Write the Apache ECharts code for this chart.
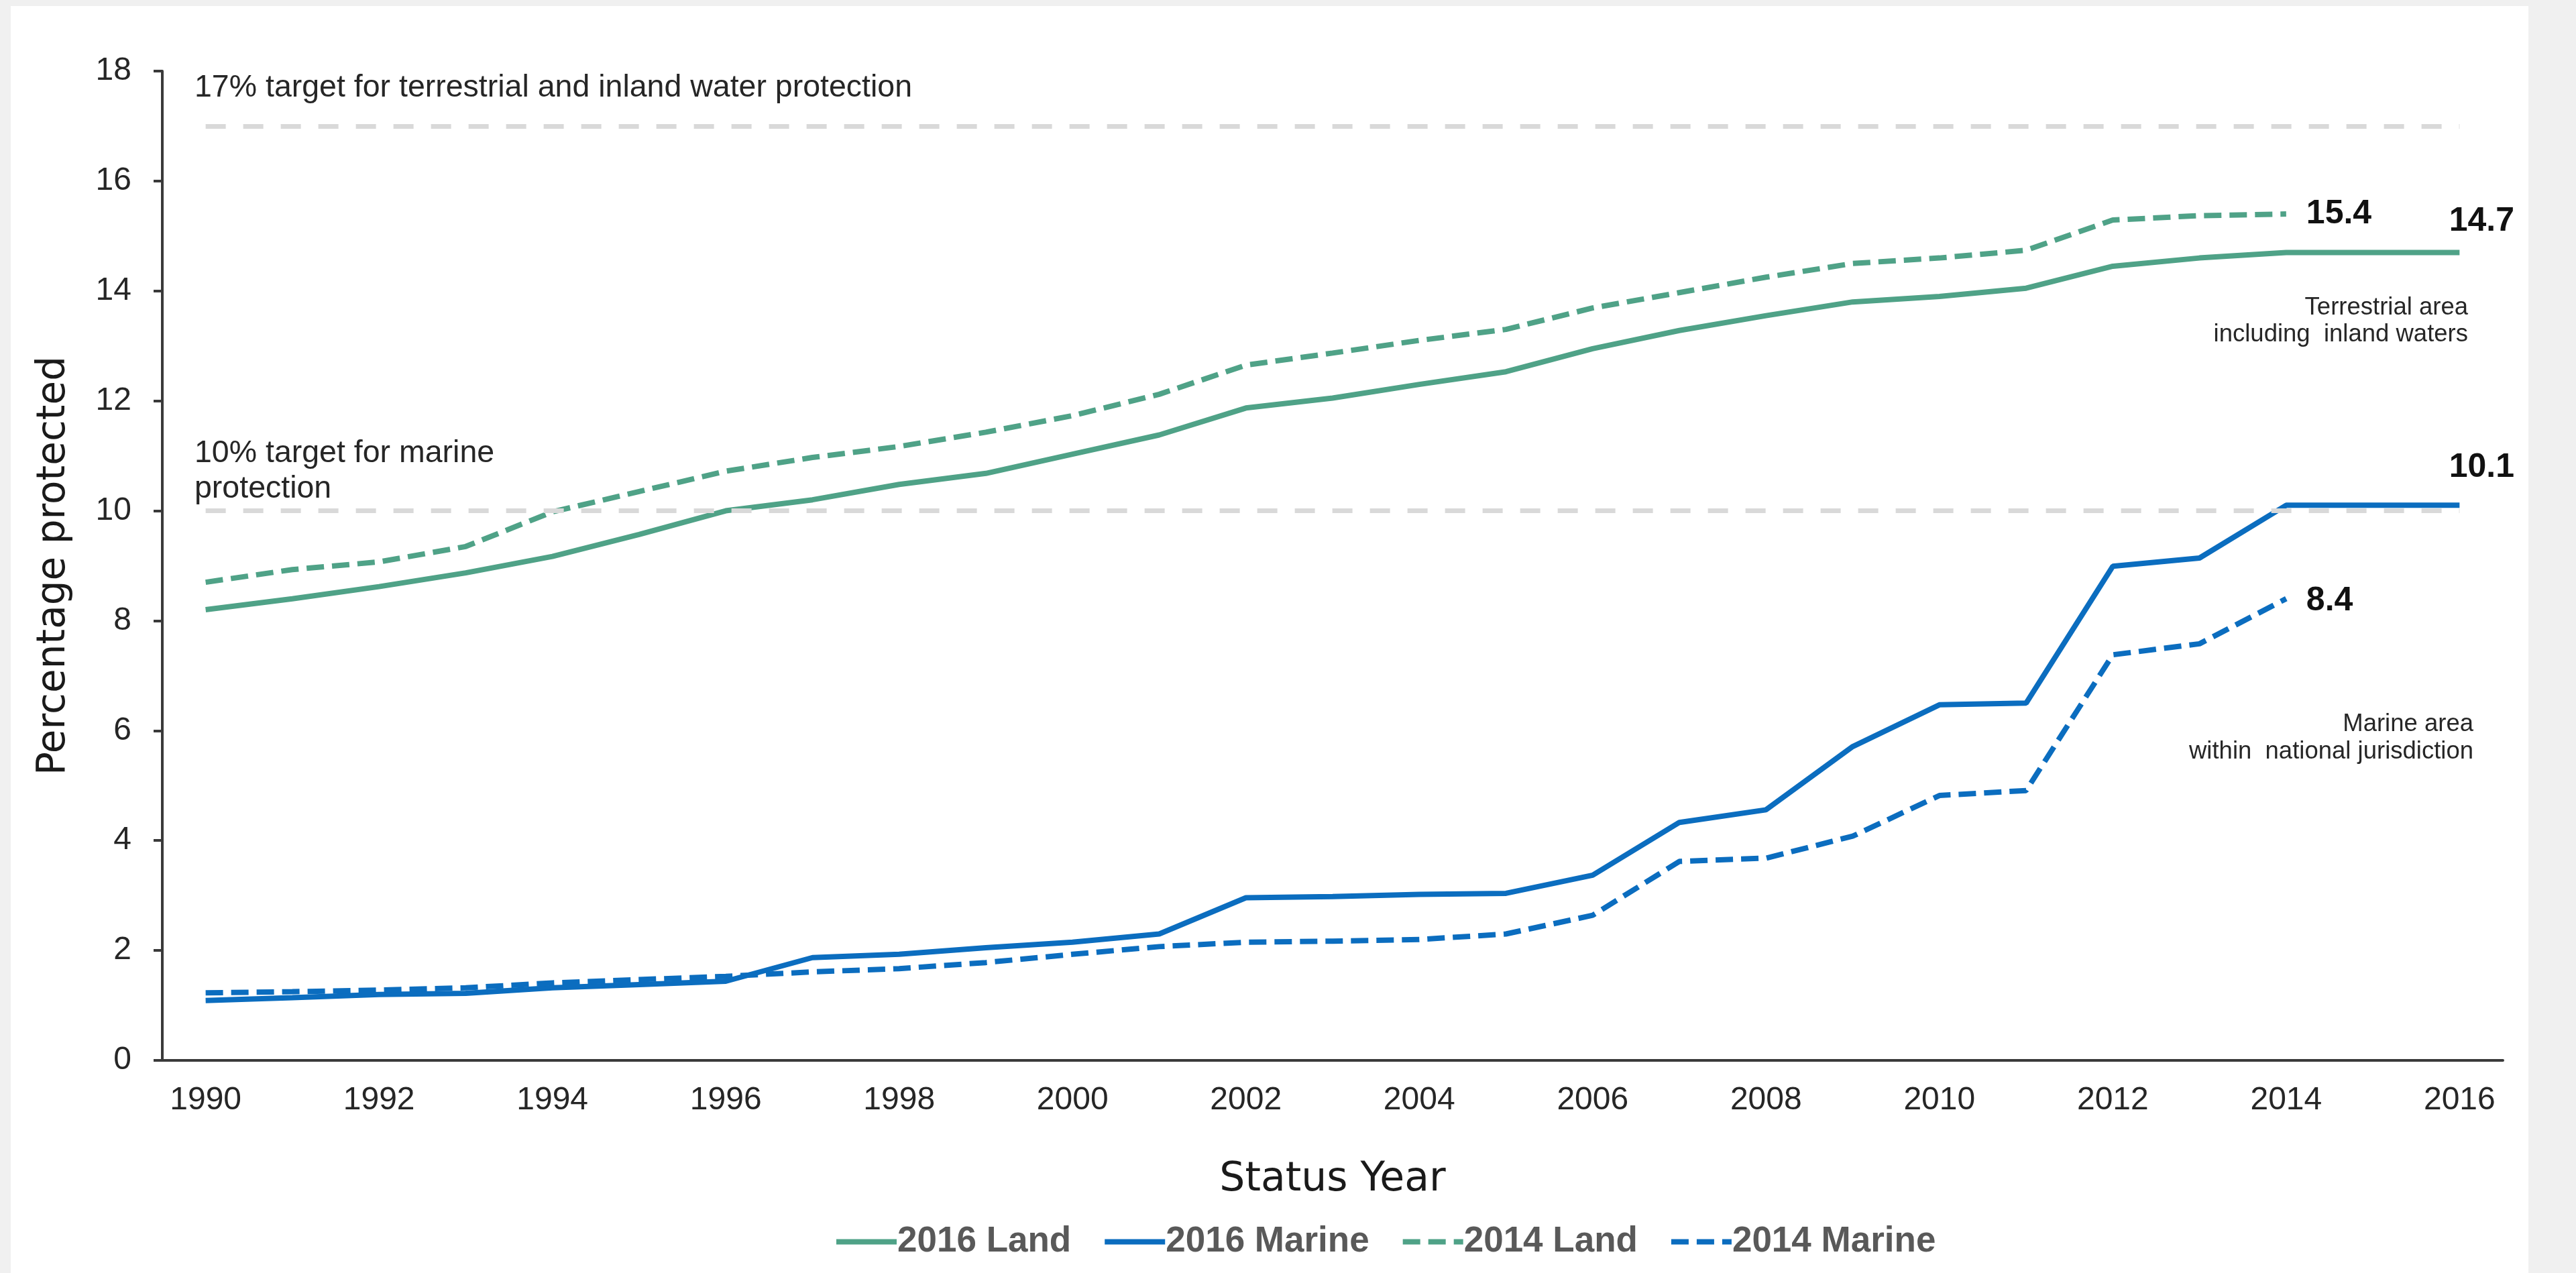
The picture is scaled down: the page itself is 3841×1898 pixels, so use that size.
<!DOCTYPE html>
<html><head><meta charset="utf-8">
<script src="https://cdn.jsdelivr.net/npm/echarts@6/dist/echarts.min.js"></script>
<style>
html,body{margin:0;padding:0;background:#f0f0f0;width:3841px;height:1898px;overflow:hidden}
#panel{position:absolute;left:16px;top:9px;width:3754px;height:1889px;background:#fff}
#chart{position:absolute;left:0;top:0;width:3841px;height:1898px}
</style></head><body><div id="panel"></div><div id="chart"></div>
<script>
const years = ['1990','1991','1992','1993','1994','1995','1996','1997','1998','1999','2000','2001','2002','2003','2004','2005','2006','2007','2008','2009','2010','2011','2012','2013','2014','2015','2016'];
const yTicks = [0, 2, 4, 6, 8, 10, 12, 14, 16, 18];
const land2016 = [8.2, 8.4, 8.62, 8.87, 9.17, 9.57, 10.0, 10.2, 10.48, 10.68, 11.03, 11.38, 11.87, 12.05, 12.3, 12.53, 12.95, 13.28, 13.55, 13.8, 13.9, 14.05, 14.45, 14.6, 14.7, 14.7, 14.7];
const marine2016 = [1.09, 1.14, 1.2, 1.22, 1.32, 1.38, 1.44, 1.87, 1.93, 2.05, 2.15, 2.3, 2.96, 2.98, 3.02, 3.04, 3.37, 4.33, 4.56, 5.71, 6.47, 6.5, 8.99, 9.14, 10.1, 10.1, 10.1];
const land2014 = [8.7, 8.93, 9.07, 9.35, 9.98, 10.35, 10.72, 10.97, 11.17, 11.43, 11.73, 12.12, 12.65, 12.87, 13.1, 13.3, 13.69, 13.97, 14.25, 14.5, 14.6, 14.74, 15.29, 15.37, 15.4];
const marine2014 = [1.23, 1.25, 1.28, 1.32, 1.41, 1.47, 1.53, 1.61, 1.67, 1.78, 1.93, 2.07, 2.15, 2.17, 2.2, 2.3, 2.64, 3.62, 3.68, 4.08, 4.82, 4.91, 7.38, 7.58, 8.4];
const seriesNames = ['2016 Land', '2016 Marine', '2014 Land', '2014 Marine'];
const targets = [17, 10];

const GREEN = '#4fa287', BLUE = '#0b6dbf';
const FONT = '"Liberation Sans", Arial, sans-serif';
const endLbl = (align, dist, off) => ({show: true, align: align, verticalAlign: 'middle', distance: dist, offset: off,
  formatter: p => Number(p.value).toFixed(1), fontFamily: FONT, fontWeight: 'bold', fontSize: 50, color: '#111'});
const chart = echarts.init(document.getElementById('chart'), null, {renderer: 'canvas'});
const refLines = {
  silent: true, symbol: 'none', label: {show: false},
  lineStyle: {color: '#d9d9d9', width: 7, type: [30, 26]},
  data: targets.map(t => [{coord: [years[0], t]}, {coord: [years[years.length - 1], t]}])
};
chart.setOption({
  animation: false,
  grid: {left: 242, right: 109, top: 106, bottom: 317},
  legend: {
    left: 1238, top: 1820, itemWidth: 90, itemHeight: 20, itemGap: 46,
    data: seriesNames,
    itemStyle: {opacity: 0},
    lineStyle: {width: 8},
    textStyle: {fontFamily: FONT, fontWeight: 'bold', fontSize: 53, color: '#595959', padding: [0, 0, 0, -4]}
  },
  xAxis: {
    type: 'category', data: years, boundaryGap: true,
    name: 'Status Year', nameLocation: 'middle', nameGap: 148,
    nameTextStyle: {fontFamily: '"DejaVu Sans", sans-serif', fontSize: 60, color: '#1a1a1a'},
    axisLine: {lineStyle: {color: '#3a3a3a', width: 4}},
    axisTick: {alignWithLabel: true, interval: 0, length: 13, lineStyle: {color: '#3a3a3a', width: 4}},
    axisLabel: {interval: 1, margin: 36, fontFamily: FONT, fontSize: 48, color: '#262626'},
    splitLine: {show: false}
  },
  yAxis: {
    type: 'value', min: yTicks[0], max: yTicks[yTicks.length - 1], interval: 2,
    name: 'Percentage protected', nameLocation: 'middle', nameGap: 132,
    nameTextStyle: {fontFamily: '"DejaVu Sans", sans-serif', fontSize: 58, color: '#1a1a1a'},
    axisLine: {show: true, lineStyle: {color: '#3a3a3a', width: 4}},
    axisTick: {show: true, length: 13, lineStyle: {color: '#3a3a3a', width: 4}},
    axisLabel: {margin: 46, fontFamily: FONT, fontSize: 48, color: '#262626'},
    splitLine: {show: false}
  },
  series: [
    {name: seriesNames[0], type: 'line', symbol: 'none', color: GREEN,
     lineStyle: {color: GREEN, width: 8}, data: land2016,
     endLabel: endLbl('center', 0, [33, -46]), markLine: refLines, z: 3},
    {name: seriesNames[1], type: 'line', symbol: 'none', color: BLUE,
     lineStyle: {color: BLUE, width: 8}, data: marine2016,
     endLabel: endLbl('center', 0, [33, -56]), z: 3},
    {name: seriesNames[2], type: 'line', symbol: 'none', color: GREEN,
     lineStyle: {color: GREEN, width: 8, type: [26, 12]}, data: land2014,
     endLabel: endLbl('left', 30, [0, 0]), z: 3},
    {name: seriesNames[3], type: 'line', symbol: 'none', color: BLUE,
     lineStyle: {color: BLUE, width: 8, type: [26, 12]}, data: marine2014,
     endLabel: endLbl('left', 30, [0, 4]), z: 3}
  ],
  graphic: [
    {type: 'text', x: 290, y: 131, style: {text: '17% target for terrestrial and inland water protection',
      fontFamily: FONT, fontSize: 46.5, fill: '#262626', align: 'left', verticalAlign: 'middle'}},
    {type: 'text', x: 290, y: 703, style: {text: '10% target for marine\nprotection', lineHeight: 53,
      fontFamily: FONT, fontSize: 46.5, fill: '#262626', align: 'left', verticalAlign: 'middle'}},
    {type: 'text', x: 3680, y: 479, style: {text: 'Terrestrial area\nincluding  inland waters', lineHeight: 40,
      fontFamily: FONT, fontSize: 36.5, fill: '#262626', align: 'right', verticalAlign: 'middle'}},
    {type: 'text', x: 3688, y: 1100, style: {text: 'Marine area\nwithin  national jurisdiction', lineHeight: 41,
      fontFamily: FONT, fontSize: 36.5, fill: '#262626', align: 'right', verticalAlign: 'middle'}}
  ]
});
</script></body></html>
